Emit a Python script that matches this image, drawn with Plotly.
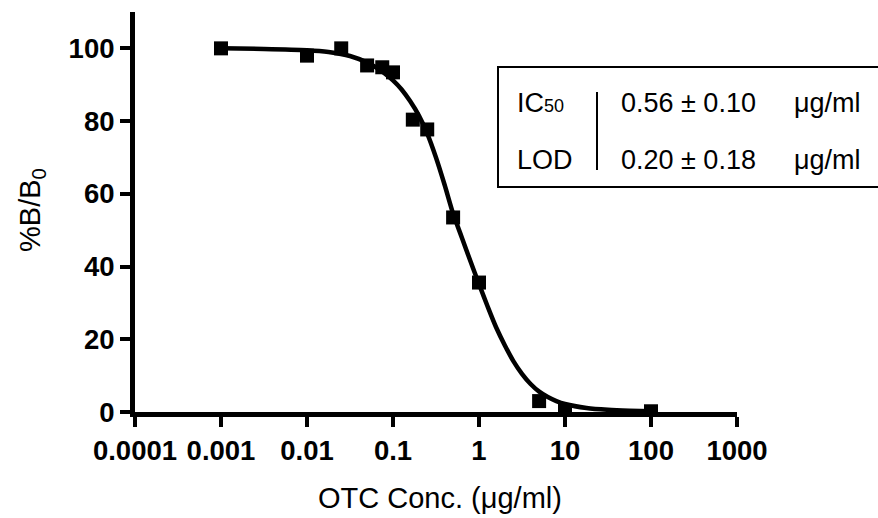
import plotly.graph_objects as go

# ---- data ----
conc = [0.001, 0.01, 0.025, 0.05, 0.075, 0.1, 0.17, 0.25, 0.5, 1.0, 5.0, 10.0, 100.0]
bb0 = [100.0, 98.0, 100.0, 95.3, 94.8, 93.4, 80.4, 77.7, 53.5, 35.6, 3.0, 0.4, 0.2]

# fitted curve
curve_x = [0.001, 0.00316, 0.01, 0.0178, 0.0316, 0.0501, 0.0631, 0.0794, 0.1, 0.126,
           0.158, 0.2, 0.251, 0.316, 0.398, 0.501, 0.631, 0.794, 1.0, 1.26,
           1.58, 2.0, 2.51, 3.16, 3.98, 5.01, 6.31, 7.94, 10.0, 17.8,
           31.6, 56.2, 100.0]
curve_y = [100.0, 99.85, 99.5, 99.0, 97.9, 96.1, 94.8, 93.2, 91.2, 88.7,
           85.5, 81.5, 76.5, 70.0, 62.5, 54.5, 48.0, 41.5, 35.2, 29.0,
           23.3, 18.3, 14.0, 10.5, 7.7, 5.6, 4.1, 3.0, 2.2, 1.1,
           0.6, 0.35, 0.2]

x_tickvals = [0.0001, 0.001, 0.01, 0.1, 1, 10, 100, 1000]
x_ticktext = ["0.0001", "0.001", "0.01", "0.1", "1", "10", "100", "1000"]
y_tickvals = [0, 20, 40, 60, 80, 100]

table_rows = [("IC<span style='font-size:18px'>50</span>", "0.56 ± 0.10", "μg/ml"),
              ("LOD", "0.20 ± 0.18", "μg/ml")]

# ---- layout geometry (pixels) ----
W, H = 878, 518
L, R, T, B = 135, 141, 12, 106
PW, PH = W - L - R, H - T - B


def px(x):
    return (x - L) / PW


def py(y):
    return (H - B - y) / PH


FONT = "Arial, 'Liberation Sans', sans-serif"

fig = go.Figure()
fig.add_trace(go.Scatter(x=curve_x, y=curve_y, mode="lines",
                         line=dict(color="black", width=4.5, shape="spline", smoothing=0.8),
                         hoverinfo="skip", showlegend=False))
fig.add_trace(go.Scatter(x=conc, y=bb0, mode="markers",
                         marker=dict(symbol="square", size=14, color="black"),
                         showlegend=False))

fig.update_xaxes(type="log", range=[-4, 3], tickvals=x_tickvals, ticktext=x_ticktext,
                 tickangle=0,
                 showline=True, linecolor="black", linewidth=5,
                 ticks="outside", ticklen=10, tickwidth=4, tickcolor="black",
                 showgrid=False, zeroline=False,
                 tickfont=dict(family=FONT, size=27.5, color="black", weight="bold"))
fig.update_yaxes(range=[0, 110], tickvals=y_tickvals,
                 showline=True, linecolor="black", linewidth=5,
                 ticks="outside", ticklen=10, tickwidth=4, tickcolor="black",
                 showgrid=False, zeroline=False,
                 tickfont=dict(family=FONT, size=27.5, color="black", weight="bold"))

ann = []
ann.append(dict(text="OTC Conc. (μg/ml)", x=px(440), y=py(498), xref="paper", yref="paper",
                showarrow=False, xanchor="center", yanchor="middle",
                font=dict(family=FONT, size=29, color="black")))
ann.append(dict(text="%B/B<sub>0</sub>", x=px(32), y=py(210), xref="paper", yref="paper",
                showarrow=False, xanchor="center", yanchor="middle", textangle=-90,
                font=dict(family=FONT, size=29, color="black")))

row_y = [103, 160]
for (lab, val, unit), ry in zip(table_rows, row_y):
    ann.append(dict(text=lab, x=px(515), y=py(ry), xref="paper", yref="paper",
                    showarrow=False, xanchor="left", yanchor="middle",
                    font=dict(family=FONT, size=27, color="black")))
    ann.append(dict(text=val, x=px(619), y=py(ry), xref="paper", yref="paper",
                    showarrow=False, xanchor="left", yanchor="middle",
                    font=dict(family=FONT, size=27, color="black")))
    ann.append(dict(text=unit, x=px(792), y=py(ry), xref="paper", yref="paper",
                    showarrow=False, xanchor="left", yanchor="middle",
                    font=dict(family=FONT, size=27, color="black")))

shapes = [
    dict(type="rect", xref="paper", yref="paper", x0=px(498), x1=px(890), y0=py(187), y1=py(67),
         line=dict(color="black", width=2), fillcolor="rgba(0,0,0,0)"),
    dict(type="line", xref="paper", yref="paper", x0=px(597), x1=px(597), y0=py(92), y1=py(170),
         line=dict(color="black", width=2)),
]

fig.update_layout(width=W, height=H, margin=dict(l=L, r=R, t=T, b=B),
                  plot_bgcolor="white", paper_bgcolor="white",
                  annotations=ann, shapes=shapes, showlegend=False)

fig.write_html("out.html")
